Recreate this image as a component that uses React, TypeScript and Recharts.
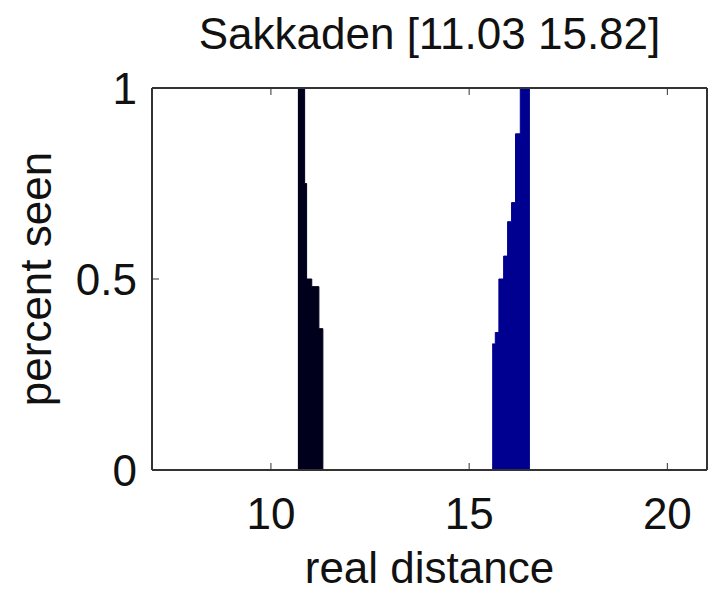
import React from "react";
import { ComposedChart, Area, XAxis, YAxis } from "recharts";

// near target (dark) – x where each step starts, fraction seen from there on
const nearX = [10.68, 10.85, 10.9, 11.03, 11.21, 11.31];
const nearSeen = [1, 0.75, 0.5, 0.48, 0.37, 0];

// far target (blue)
const farX = [15.58, 15.66, 15.75, 15.87, 15.97, 16.07, 16.17, 16.29, 16.52];
const farSeen = [0.33, 0.36, 0.5, 0.56, 0.65, 0.7, 0.88, 1, 0];

const xTicks = [10, 15, 20];
const yTicks = [0, 0.5, 1];

const data = [
  ...nearX.map((x, i) => ({ x, near: nearSeen[i], far: null as number | null })),
  ...farX.map((x, i) => ({ x, near: null as number | null, far: farSeen[i] })),
];

const font = "'Liberation Sans', Arial, Helvetica, sans-serif";
const fs = 44;
const tickStyle = { fontSize: fs, fill: "#111", fontFamily: font };
const axisLine = { stroke: "#333", strokeWidth: 2 };

export default function App() {
  return (
    <div style={{ position: "absolute", left: 0, top: 0, background: "#fff" }}>
      <ComposedChart
        width={717}
        height={593}
        data={data}
        margin={{ top: 0, right: 0, bottom: 0, left: 0 }}
        style={{ fontFamily: font }}
      >
        <XAxis
          dataKey="x"
          type="number"
          domain={[7, 21]}
          ticks={xTicks}
          allowDataOverflow
          height={123}
          tick={tickStyle}
          tickSize={-7}
          tickMargin={35}
          axisLine={axisLine}
          tickLine={{ stroke: "#333" }}
          label={{ value: "real distance", position: "insideBottom", offset: 10, fontSize: fs, fill: "#111" }}
        />
        <XAxis
          xAxisId="top"
          orientation="top"
          dataKey="x"
          type="number"
          domain={[7, 21]}
          ticks={xTicks}
          height={88}
          tickFormatter={() => ""}
          tickSize={-7}
          axisLine={axisLine}
          tickLine={{ stroke: "#333" }}
          label={{ value: "Sakkaden [11.03 15.82]", position: "insideTop", offset: 18, fontSize: fs, fill: "#111" }}
        />
        <YAxis
          type="number"
          domain={[0, 1]}
          ticks={yTicks}
          width={152}
          tick={tickStyle}
          tickSize={-7}
          tickMargin={22}
          axisLine={axisLine}
          tickLine={{ stroke: "#333" }}
          label={{
            value: "percent seen",
            angle: -90,
            position: "insideLeft",
            offset: 35,
            fontSize: fs,
            fill: "#111",
            style: { textAnchor: "middle" },
          }}
        />
        <YAxis
          yAxisId="right"
          orientation="right"
          type="number"
          domain={[0, 1]}
          ticks={yTicks}
          width={10}
          tickFormatter={() => ""}
          tickSize={-7}
          axisLine={axisLine}
          tickLine={{ stroke: "#333" }}
        />
        <Area
          dataKey="near"
          type="stepAfter"
          stroke="#00001c"
          strokeWidth={1}
          fill="#00001c"
          fillOpacity={1}
          isAnimationActive={false}
          dot={false}
          activeDot={false}
        />
        <Area
          dataKey="far"
          type="stepAfter"
          stroke="#000090"
          strokeWidth={1}
          fill="#000090"
          fillOpacity={1}
          isAnimationActive={false}
          dot={false}
          activeDot={false}
        />
      </ComposedChart>
    </div>
  );
}
